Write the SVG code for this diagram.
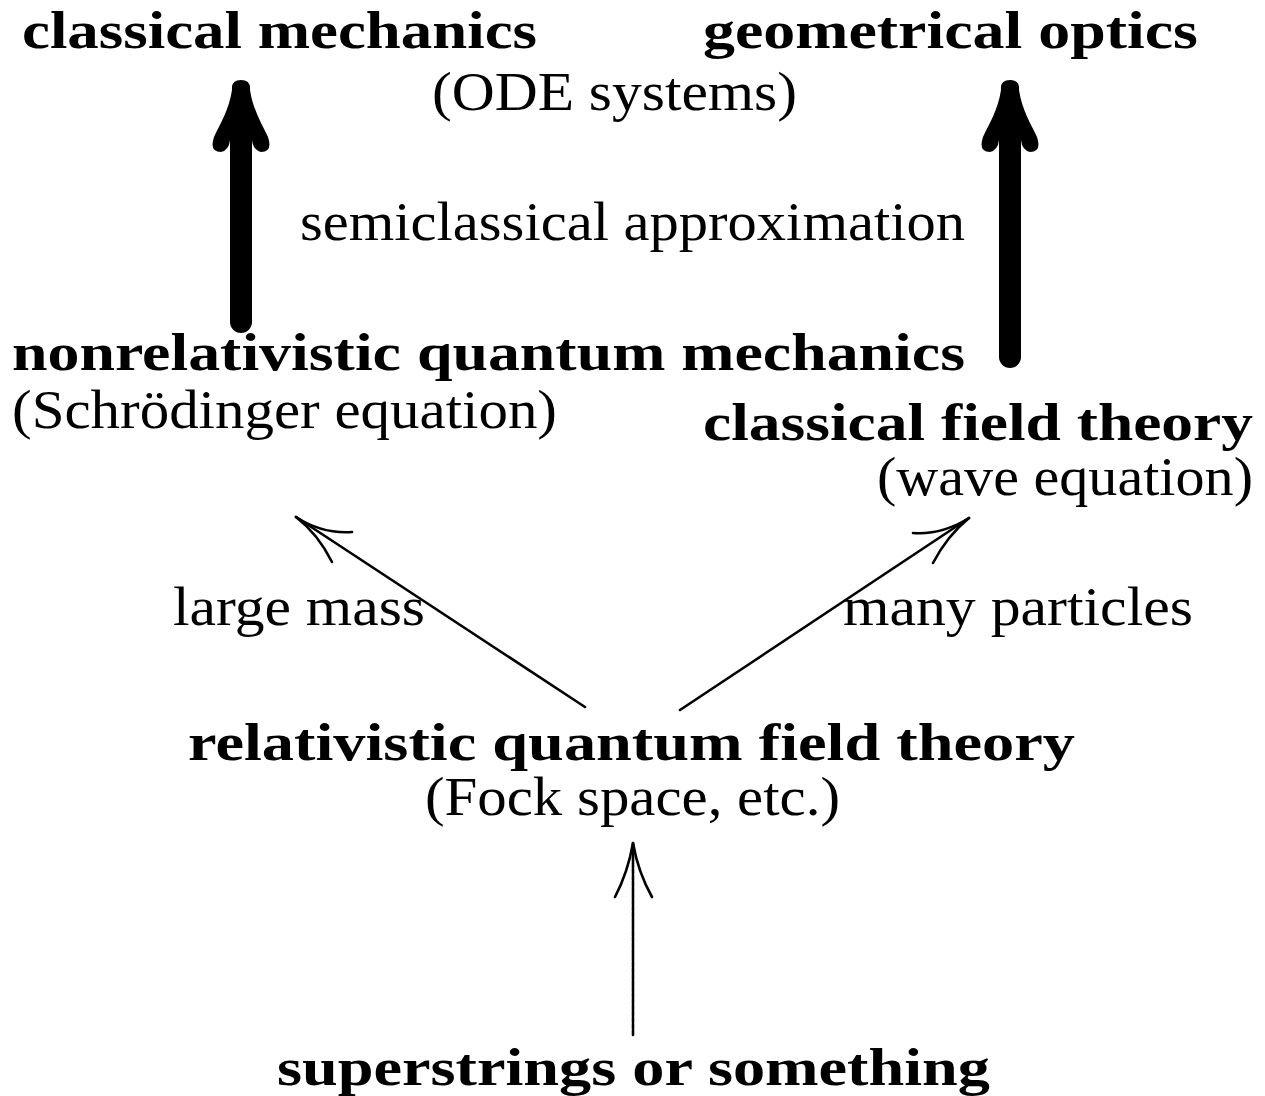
<svg xmlns="http://www.w3.org/2000/svg" width="1265" height="1096" viewBox="0 0 1265 1096">
<style>
text{font-family:"Liberation Serif","DejaVu Serif",serif;font-size:54px;fill:#000}
.b{font-weight:bold;font-size:53px}
.thin{fill:none;stroke:#000;stroke-width:2.6;stroke-linecap:round}
.shaft{fill:none;stroke:#000;stroke-width:22;stroke-linecap:round}
</style>
<defs>
<path id="bighead" d="M-9,90 Q-10,80 0,80 Q10,80 9,90 C12,110 21,124 27,137 Q32,152 20,152 Q12,150 11,140 L-11,140 Q-12,150 -20,152 Q-32,152 -27,137 C-21,124 -12,110 -9,90 Z" fill="#000"/>
</defs>
<rect width="1265" height="1096" fill="#fff"/>
<g id="connectors">
<g id="semi-left">
<line class="shaft" x1="241" y1="140" x2="241" y2="322"/>
<use href="#bighead" transform="translate(241,0)"/>
</g>
<g id="semi-right">
<line class="shaft" x1="1010" y1="140" x2="1010" y2="357"/>
<use href="#bighead" transform="translate(1010,0)"/>
</g>
<g id="large-mass-arrow">
<line class="thin" x1="585" y1="707" x2="296" y2="517"/>
<path class="thin" d="M296,517 Q322,534 352,532"/>
<path class="thin" d="M296,517 Q318,534 332,562"/>
</g>
<g id="many-particles-arrow">
<line class="thin" x1="680" y1="710" x2="969" y2="518"/>
<path class="thin" d="M969,518 Q942,535 913,533"/>
<path class="thin" d="M969,518 Q947,536 933,563"/>
</g>
<g id="strings-arrow">
<line class="thin" x1="633" y1="1035" x2="633" y2="843" stroke-dasharray="5 1.2" stroke-linecap="butt"/>
<path class="thin" d="M633,843 Q628,872 615,897"/>
<path class="thin" d="M633,843 Q638,872 652,897"/>
</g>
</g>
<g id="node-classical-mechanics"><text class="b" x="22" y="48" textLength="515" lengthAdjust="spacingAndGlyphs">classical mechanics</text></g>
<g id="node-geometrical-optics"><text class="b" x="703" y="48" textLength="495" lengthAdjust="spacingAndGlyphs">geometrical optics</text></g>
<g id="label-ode"><text x="432" y="110" textLength="365" lengthAdjust="spacingAndGlyphs">(ODE systems)</text></g>
<g id="label-semiclassical"><text x="300" y="240" textLength="665" lengthAdjust="spacingAndGlyphs">semiclassical approximation</text></g>
<g id="node-nrqm">
<text class="b" x="12" y="370" textLength="953" lengthAdjust="spacingAndGlyphs">nonrelativistic quantum mechanics</text>
<text x="12" y="428" textLength="545" lengthAdjust="spacingAndGlyphs">(Schrödinger equation)</text>
</g>
<g id="node-cft">
<text class="b" x="703" y="440" textLength="550" lengthAdjust="spacingAndGlyphs">classical field theory</text>
<text x="877" y="495" textLength="376" lengthAdjust="spacingAndGlyphs">(wave equation)</text>
</g>
<g id="label-large-mass"><text x="173" y="625" textLength="252" lengthAdjust="spacingAndGlyphs">large mass</text></g>
<g id="label-many-particles"><text x="843" y="625" textLength="350" lengthAdjust="spacingAndGlyphs">many particles</text></g>
<g id="node-rqft">
<text class="b" x="188" y="760" textLength="887" lengthAdjust="spacingAndGlyphs">relativistic quantum field theory</text>
<text x="425" y="815" textLength="415" lengthAdjust="spacingAndGlyphs">(Fock space, etc.)</text>
</g>
<g id="node-superstrings"><text class="b" x="277" y="1085" textLength="713" lengthAdjust="spacingAndGlyphs">superstrings or something</text></g>
</svg>
